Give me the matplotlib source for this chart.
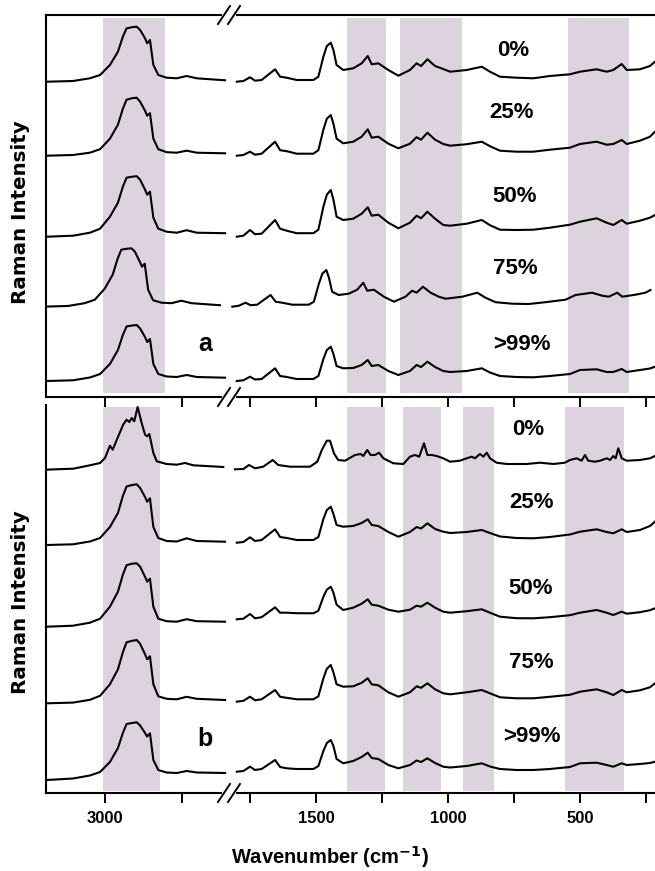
import matplotlib
matplotlib.use('Agg')
import matplotlib.pyplot as plt
from matplotlib.lines import Line2D
from matplotlib import font_manager
import numpy as np

plt.rcParams['font.family'] = ['Liberation Sans', 'DejaVu Sans']
plt.rcParams['font.weight'] = 'bold'

try:
    font_manager.findfont(font_manager.FontProperties(family='Liberation Sans Narrow',
                                                      weight='bold'),
                          fallback_to_default=False)
    PCT_FAMILY, PCT_SIZE = ['Liberation Sans Narrow', 'Liberation Sans'], 19
except Exception:
    PCT_FAMILY, PCT_SIZE = ['Liberation Sans', 'DejaVu Sans'], 16

W, H = 655, 871

# ---------------- data ----------------
labels = ['0%', '25%', '50%', '75%', '>99%']

wn_left = [3189, 3104, 3049, 3016, 2984, 2958, 2942, 2930, 2912, 2897, 2886,
           2870, 2863, 2854, 2843, 2827, 2800, 2767, 2735, 2702, 2610]
wn_right = [1800, 1775, 1750, 1731, 1706, 1655, 1636, 1611, 1573, 1510, 1491,
            1472, 1459, 1444, 1434, 1422, 1397, 1359, 1327, 1304, 1289, 1264,
            1226, 1188, 1144, 1119, 1102, 1078, 1049, 1018, 992, 929, 872, 841,
            803, 740, 677, 614, 538, 500, 437, 399, 374, 342, 323, 273, 235, 216]

# panel a
a_left_0 = [0, 0.7, 3.4, 6.7, 16.7, 30, 45, 53.4, 54.5, 55, 51.7, 43.4, 38.4, 41.7, 16.7, 6.7, 4, 3.4, 5.7, 3.4, 1.4]
a_left_25 = [0, 0.7, 3, 6.5, 17, 31, 47, 56, 57.5, 58, 54, 45, 40, 42.5, 17, 6.5, 3.5, 3, 5, 3, 2.4]
a_left_50 = [0, 1, 4, 8, 20, 34, 50, 59, 60, 60.5, 57, 47, 42, 45, 19, 8, 5, 4, 6.5, 4, 3.5]
a_left_75 = [0, 0.7, 3.5, 7, 18, 32, 48, 57, 58, 58.4, 55, 45, 40, 43, 17, 6.5, 4, 3.5, 6, 3.5, 1.5]
a_left_99 = [0, 0.7, 3.5, 7, 17, 31, 46, 54.5, 55.5, 56, 52.5, 44, 39, 42, 17, 7, 4.5, 4, 6, 4, 3.3]

a_right_0 = [0, 0.7, 4.4, 1, 1.7, 12.4, 5, 4, 1.7, 1.7, 5, 25, 35.7, 39, 31.7, 16.7, 11.7, 13.4,
             18.4, 25.7, 17.4, 18.4, 11.7, 6, 11.7, 18.4, 15.7, 22.4, 15.7, 12.7, 10, 11.7, 15,
             10, 5, 4, 3.4, 5.7, 7.4, 10, 12.4, 10, 11.7, 17.7, 11.7, 12.4, 15.7, 20]
a_right_25 = [0, 0.7, 4, 1, 2, 14, 5.5, 4.5, 2, 2, 5.5, 26, 37, 40.7, 32, 17, 12.4, 14, 19, 26.4,
              18, 19, 12, 7.4, 12, 18.5, 16, 23, 16, 11.7, 10, 11.5, 14, 9.5, 5, 4, 4, 6, 8,
              11.7, 14, 11, 11.7, 15.7, 11.7, 15, 19, 24]
a_right_50 = [0, 1, 6.7, 2.5, 3, 16.7, 8, 6, 3.5, 3.5, 7, 30, 42, 46.7, 37, 20, 16.7, 18, 23,
              29.4, 21, 22, 14, 8.4, 14, 21, 18.5, 25, 18, 11.7, 11, 13, 16.7, 11.5, 7, 6.7, 7,
              9, 12, 15, 18.4, 14, 11.7, 16.7, 13, 16, 19, 21.7]
a_right_75 = [0, 1, 4, 1.5, 2, 11.7, 5, 4, 2, 2, 5, 23, 33, 36.7, 29, 15, 11.7, 13, 17, 24, 16,
              17, 10, 5, 10, 16, 14, 20, 14, 10, 8, 10, 14, 9, 4.5, 3, 2.7, 4.5, 7, 11.7, 14,
              11, 10, 14, 10, 12, 14, 16.7]
a_right_99 = [0, 0.7, 4.3, 1.5, 2, 12.7, 5, 4, 2, 2, 5, 22, 31, 34.3, 27, 15, 12.7, 13, 16, 21,
              15, 16, 10, 6, 10, 16, 14, 19.3, 14, 10, 9, 10, 12.7, 8.5, 5, 4, 3.7, 5, 7, 11,
              11.7, 9, 9, 12, 9, 11, 12.5, 14.3]

# panel b: the 0% spectrum has its own sampling (sharp crystalline bands)
wn_b0_left = [3195, 3103, 3049, 3016, 3000, 2984, 2975, 2957, 2941, 2930, 2921, 2913, 2905,
              2894, 2881, 2870, 2863, 2856, 2843, 2832, 2800, 2767, 2740, 2713, 2616]
b_left_0 = [0, 1, 4.4, 6.7, 11.7, 24, 20, 33.4, 45, 50, 47.7, 51.7, 48.4, 62.7, 46.7, 35,
            33.4, 35.7, 16.7, 8.4, 5.7, 5, 6.7, 4.4, 2.7]
wn_b0_right = [1807, 1775, 1754, 1731, 1700, 1664, 1643, 1598, 1523, 1495, 1478, 1459, 1447,
               1432, 1416, 1390, 1352, 1331, 1321, 1306, 1293, 1277, 1261, 1245, 1207, 1169,
               1144, 1125, 1109, 1091, 1078, 1062, 1043, 1018, 992, 955, 929, 910, 898, 879,
               866, 853, 841, 816, 778, 702, 652, 601, 557, 538, 513, 494, 481, 469, 443, 424,
               399, 386, 374, 365, 355, 342, 323, 273, 235, 216]
b_right_0 = [0.4, 0.7, 4.7, 1.4, 3, 9.7, 4.7, 3, 3, 8, 19.7, 29, 29, 16.4, 9.7, 9, 14.7, 15.7,
             13.7, 19.7, 14.7, 14.7, 17, 11.4, 6.4, 5.7, 13, 14.7, 13, 26.4, 14.7, 14.7, 13.7,
             11.4, 8, 9, 11.4, 13, 11.4, 15.7, 13, 17, 11.4, 7, 5.7, 5.7, 7, 5.7, 7, 9.7, 11.4,
             9, 14.7, 9, 8, 9, 11.4, 9.7, 13.7, 11.4, 21.4, 11.4, 9, 9.7, 11.4, 13.7]

b_left_25 = [0, 0.7, 3.5, 7, 18, 32, 49, 58.5, 60, 60.7, 57, 48, 43.3, 46.7, 18, 7, 4, 3.5, 6.7, 4, 3.3]
b_left_50 = [0, 1, 4, 8, 20, 35, 52, 61.5, 63, 63.4, 60, 50, 45, 48, 20, 8, 5.5, 5, 7.5, 5.5, 5]
b_left_75 = [0, 0.7, 3.5, 7.5, 19, 34, 51, 61, 62.5, 63.3, 59.5, 49, 44, 47, 19, 7, 4.5, 4, 6.5, 4.5, 3.3]
b_left_99 = [0, 1.5, 4.5, 8, 18, 32, 47, 56, 57, 57.7, 54.5, 47, 43.5, 46.7, 20, 10, 7.5, 7, 9, 7.5, 7]

b_right_25 = [2.3, 3, 7.7, 4, 5, 15.7, 8, 7, 5, 5, 8, 26, 35, 38.3, 31, 20, 18.3, 19, 22, 25.7,
              20, 19, 13, 8.3, 13, 18, 16.5, 21.7, 16, 13.3, 12, 13, 15, 12, 8.5, 7, 6.7, 8,
              10.5, 13.3, 15.7, 13, 11.7, 15.7, 13, 15, 19, 23.3]
b_right_50 = [7.4, 8, 12.7, 8.4, 9.5, 19.4, 14, 14, 13.5, 13.4, 16, 30, 37, 40, 34, 22, 16.7,
              19, 23, 27.4, 22, 21, 17, 15, 17, 21, 20, 24, 19, 15, 14, 15.5, 17.4, 14, 10,
              8.5, 8.4, 9.5, 11.5, 14, 16.7, 14, 11.7, 15, 13, 14.5, 16.5, 18.4]
b_right_75 = [1.6, 2.5, 6.6, 3, 4, 13.3, 6.5, 5.5, 4, 4, 7, 25, 34.5, 38.3, 31, 19, 16.6, 17,
              20.5, 25, 19, 18, 11, 6.6, 11, 17, 15.5, 20, 14, 10, 9, 11, 13.3, 10, 6, 5, 5,
              6.5, 8.5, 11.6, 14, 11, 8.3, 13.3, 11, 13, 16, 20]
b_right_99 = [8.3, 9, 13.3, 10, 11, 20, 13, 11.7, 11, 11, 14, 29, 37, 40, 34, 21, 16.7, 19, 23,
              27.3, 22, 21, 15, 11.7, 15, 19.5, 18, 21.7, 17, 13.3, 12.5, 14, 16.7, 13.5, 11,
              10, 10, 11, 13, 16.7, 17.3, 15, 13.3, 16.7, 15, 16, 17, 18.3]

# stacking offsets (baseline of each trace) and calibration shifts (cm-1)
a_offsets = [315.3, 241.3, 160.3, 90.3, 16.0]
b_offsets = [323.3, 248.0, 166.3, 89.7, 13.0]
a_shifts = [0, 0, 0, 17, 0]
b_shifts = [0, 0, 0, 0, 0]

# shaded bands (cm-1)
a_bands_left = [(3006, 2806)]
a_bands_right = [(1381, 1235), (1182, 948), (547, 314)]
b_bands_left = [(3006, 2821)]
b_bands_right = [(1381, 1239), (1169, 1025), (942, 826), (557, 332)]

# ---------------- layout ----------------
band_color = '#ddd3de'
fig = plt.figure(figsize=(W / 100, H / 100), dpi=100)

XL0, XJ, XR1 = 46, 229, 655
left_xlim = (3000 + (105 - XL0) / 0.308, 3000 - (XJ - 105) / 0.308)
right_xlim = (1500 + (316 - XJ) / 0.264, 1500 - (XR1 - 316) / 0.264)

panels = [
    dict(top=15, bottom=397, show_top=True, labels_x=False,
         lefts=[(wn_left, a_left_0), (wn_left, a_left_25), (wn_left, a_left_50),
                (wn_left, a_left_75), (wn_left, a_left_99)],
         rights=[(wn_right, a_right_0), (wn_right, a_right_25), (wn_right, a_right_50),
                 (wn_right, a_right_75), (wn_right, a_right_99)],
         offsets=a_offsets, shifts=a_shifts, bl=a_bands_left, br=a_bands_right,
         band_y=(18, 393),
         lab_pos=[(513, 50), (512, 113), (515, 197), (515, 269), (522, 344)],
         letter='a', letter_pos=(205, 344), ylab_y=212),
    dict(top=405, bottom=793, show_top=False, labels_x=True,
         lefts=[(wn_b0_left, b_left_0), (wn_left, b_left_25), (wn_left, b_left_50),
                (wn_left, b_left_75), (wn_left, b_left_99)],
         rights=[(wn_b0_right, b_right_0), (wn_right, b_right_25), (wn_right, b_right_50),
                 (wn_right, b_right_75), (wn_right, b_right_99)],
         offsets=b_offsets, shifts=b_shifts, bl=b_bands_left, br=b_bands_right,
         band_y=(407, 791),
         lab_pos=[(528, 429), (531, 502), (531, 588), (531, 662), (532, 736)],
         letter='b', letter_pos=(205, 739), ylab_y=602),
]


def fx(x):
    return x / W


def fy(y):
    return 1 - y / H


for p in panels:
    top, bot = p['top'], p['bottom']
    hpx = bot - top
    axL = fig.add_axes([fx(XL0), fy(bot), (XJ - XL0) / W, hpx / H])
    axR = fig.add_axes([fx(XJ), fy(bot), (XR1 - XJ) / W, hpx / H])
    for ax, xl in ((axL, left_xlim), (axR, right_xlim)):
        ax.set_xlim(*xl)
        ax.set_ylim(0, hpx)
        ax.set_yticks([])
        ax.patch.set_alpha(0)
        for s in ax.spines.values():
            s.set_linewidth(1.5)
        ax.spines['right'].set_visible(False)
        ax.spines['top'].set_visible(p['show_top'])
        ax.tick_params(axis='x', direction='out', length=7, width=1.4, pad=6,
                       labelsize=12)
    axR.spines['left'].set_visible(False)

    axL.set_xticks([3000, 2750])
    axR.set_xticks([1750, 1500, 1250, 1000, 750, 500, 250])
    if p['labels_x']:
        axL.set_xticklabels(['3000', ''], fontweight='bold')
        axR.set_xticklabels(['', '1500', '', '1000', '', '500', ''], fontweight='bold')
    else:
        axL.set_xticklabels([])
        axR.set_xticklabels([])

    y0 = (bot - p['band_y'][1]) / hpx
    y1 = (bot - p['band_y'][0]) / hpx
    for a, b in p['bl']:
        axL.axvspan(a, b, ymin=y0, ymax=y1, color=band_color, lw=0, zorder=0)
    for a, b in p['br']:
        axR.axvspan(a, b, ymin=y0, ymax=y1, color=band_color, lw=0, zorder=0)

    for (wl, vl), (wr, vr), off, sh in zip(p['lefts'], p['rights'], p['offsets'], p['shifts']):
        axL.plot(np.array(wl) + sh, off + np.array(vl), color='black', lw=1.5, zorder=3)
        axR.plot(np.array(wr) + sh, off + np.array(vr), color='black', lw=1.5, zorder=3)

    for lab, (x, y) in zip(labels, p['lab_pos']):
        fig.text(fx(x), fy(y), lab, ha='center', va='center', fontsize=PCT_SIZE,
                 fontweight='bold', family=PCT_FAMILY)
    fig.text(fx(p['letter_pos'][0]), fy(p['letter_pos'][1]), p['letter'], ha='center',
             va='center', fontsize=18, fontweight='bold')
    fig.text(fx(21), fy(p['ylab_y']), 'Raman Intensity', rotation=90, ha='center',
             va='center', fontsize=14.3, fontweight='bold', family=['DejaVu Sans'])

    # axis break marks
    spine_ys = [bot] + ([top] if p['show_top'] else [])
    for ys in spine_ys:
        fig.add_artist(Line2D([fx(224), fx(234)], [fy(ys), fy(ys)], color='white',
                              lw=3, transform=fig.transFigure, zorder=5))
        for xc in (224, 234):
            fig.add_artist(Line2D([fx(xc - 6), fx(xc + 6)], [fy(ys + 9), fy(ys - 9)],
                                  color='black', lw=1.4, transform=fig.transFigure,
                                  zorder=6))

fig.text(fx(330), fy(857), 'Wavenumber (cm$^{\\mathbf{-1}}$)', ha='center', va='center',
         fontsize=14.5, fontweight='bold')

fig.savefig('out.png', dpi=100)
